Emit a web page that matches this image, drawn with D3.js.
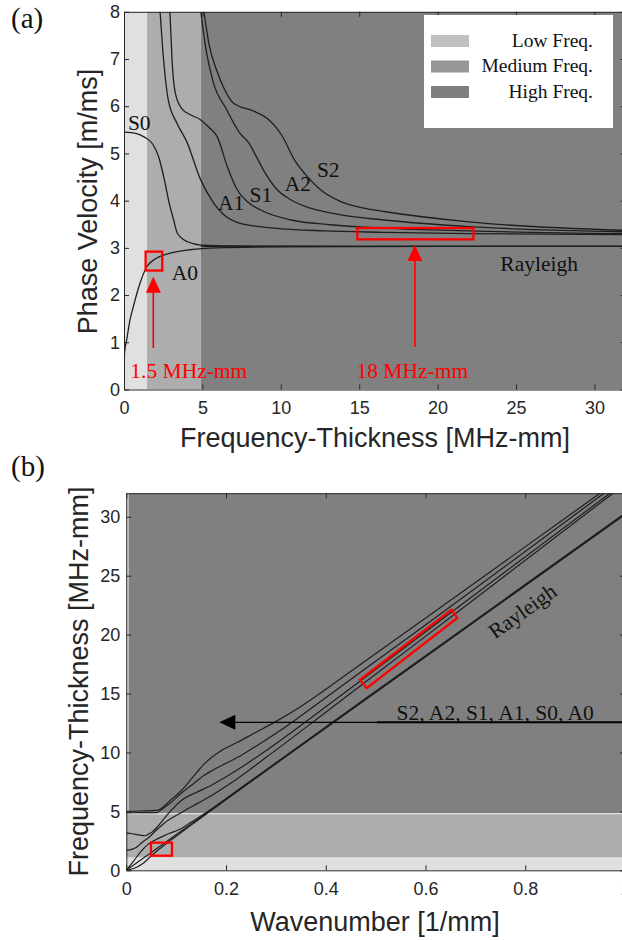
<!DOCTYPE html>
<html><head><meta charset="utf-8">
<script src="https://cdn.jsdelivr.net/npm/d3@7"></script>
<style>body{margin:0;background:#fff}svg{display:block}</style>
</head><body>
<svg id="c" width="622" height="940"></svg>
<script>
// ---------- Panel (a): phase velocity [m/ms] vs frequency-thickness [MHz-mm] ----------
const aS0_fh = [0, 0.8, 1.28, 1.83, 2.22, 2.57, 2.86, 3.16, 3.4, 4.05, 4.93, 7, 10, 15, 22, 32];
const aS0_c  = [5.45, 5.42, 5.35, 5.2, 4.92, 4.45, 3.98, 3.6, 3.31, 3.13, 3.06, 3.04, 3.035, 3.03, 3.03, 3.03];
const aA0_fh = [0, 0.01, 0.04, 0.17, 0.38, 0.59, 1.02, 1.45, 2.07, 2.96, 4.2, 5.9, 10, 20, 32];
const aA0_c  = [0, 0.45, 0.8, 1.05, 1.47, 1.75, 2.25, 2.6, 2.78, 2.89, 2.96, 3.0, 3.02, 3.03, 3.03];
const aA1_fh = [2.3, 2.47, 2.82, 3.36, 4.0, 4.89, 5.72, 6.37, 7.4, 9.57, 12.73, 16.58, 22, 32];
const aA1_c  = [8.0, 7.2, 6.14, 5.65, 5.25, 4.44, 3.95, 3.7, 3.52, 3.42, 3.36, 3.33, 3.30, 3.28];
const aS1_fh = [2.93, 3.06, 3.26, 3.68, 4.24, 4.85, 5.43, 5.95, 6.58, 7.22, 7.86, 8.92, 10.66, 13.18, 16.58, 22, 32];
const aS1_c  = [8.0, 7.0, 6.3, 5.95, 5.82, 5.72, 5.55, 5.35, 4.73, 4.23, 3.98, 3.77, 3.59, 3.49, 3.42, 3.36, 3.30];
const aA2_fh = [4.9, 5.23, 5.7, 6.54, 7.39, 7.97, 8.49, 8.98, 9.77, 10.63, 11.9, 13.82, 16.58, 22, 32];
const aA2_c  = [8.0, 7.2, 6.5, 5.93, 5.43, 5.22, 4.9, 4.6, 4.23, 4.02, 3.84, 3.7, 3.59, 3.45, 3.34];
const aS2_fh = [5.1, 5.43, 5.92, 6.42, 6.97, 8.24, 9.1, 10.07, 10.86, 11.69, 12.53, 13.82, 15.3, 16.58, 22, 32];
const aS2_c  = [8.0, 7.3, 6.75, 6.35, 6.07, 5.9, 5.75, 5.38, 4.87, 4.51, 4.23, 3.98, 3.84, 3.77, 3.55, 3.37];
const aRay_fh = [4.9, 32];
const aRay_c  = [3.03, 3.03];
const aXTicks = [0, 5, 10, 15, 20, 25, 30];
const aYTicks = [0, 1, 2, 3, 4, 5, 6, 7, 8];
const aBands = ["Low Freq.", "Medium Freq.", "High Freq."];
const aBandFrom = [0, 1.47, 4.9];
const aBandTo   = [1.47, 4.9, 32];

// ---------- Panel (b): frequency-thickness [MHz-mm] vs wavenumber [1/mm] ----------
const bS2_k  = [0, 0.03, 0.063, 0.088, 0.115, 0.14, 0.158, 0.187, 0.223, 0.259, 0.296, 0.347, 0.398, 0.44, 0.62, 0.95];
const bS2_fh = [5.0, 5.03, 5.1, 5.92, 6.97, 8.24, 9.1, 10.07, 10.86, 11.69, 12.53, 13.82, 15.3, 16.58, 22, 32];
const bA2_k  = [0, 0.03, 0.061, 0.073, 0.088, 0.11, 0.136, 0.153, 0.173, 0.195, 0.231, 0.264, 0.31, 0.373, 0.462, 0.638, 0.958];
const bA2_fh = [4.88, 4.89, 4.9, 5.23, 5.7, 6.54, 7.39, 7.97, 8.49, 8.98, 9.77, 10.63, 11.9, 13.82, 16.58, 22, 32];
const bS1_k  = [0, 0.012, 0.024, 0.033, 0.037, 0.044, 0.052, 0.062, 0.073, 0.085, 0.098, 0.111, 0.139, 0.171, 0.197, 0.237, 0.297, 0.378, 0.485, 0.655, 0.97];
const bS1_fh = [3.16, 3.1, 3.0, 2.95, 2.93, 3.06, 3.26, 3.68, 4.24, 4.85, 5.43, 5.95, 6.58, 7.22, 7.86, 8.92, 10.66, 13.18, 16.58, 22, 32];
const bA1_k  = [0, 0.012, 0.022, 0.03, 0.046, 0.059, 0.076, 0.11, 0.145, 0.172, 0.21, 0.28, 0.379, 0.498, 0.667, 0.976];
const bA1_fh = [1.69, 1.8, 2.0, 2.3, 2.82, 3.36, 4.0, 4.89, 5.72, 6.37, 7.4, 9.57, 12.73, 16.58, 22, 32];
const bS0_k  = [0, 0.015, 0.03, 0.044, 0.058, 0.072, 0.088, 0.103, 0.129, 0.161, 0.23, 0.5, 1.06];
const bS0_fh = [0, 0.81, 1.62, 2.22, 2.57, 2.86, 3.16, 3.4, 4.05, 4.93, 7.0, 15.2, 32.1];
const bA0_k  = [0, 0.016, 0.026, 0.034, 0.045, 0.056, 0.066, 0.074, 0.102, 0.142, 0.197, 0.33, 0.66, 1.06];
const bA0_fh = [0, 0.17, 0.38, 0.59, 1.02, 1.45, 1.8, 2.07, 2.96, 4.2, 5.9, 9.97, 19.95, 32.1];
const bRay_k  = [0, 1.06];
const bRay_fh = [0, 32];
const bXTicks = [0, 0.2, 0.4, 0.6, 0.8, 1];
const bYTicks = [0, 5, 10, 15, 20, 25, 30];
const bBandFrom = [0, 1.1, 4.8];
const bBandTo   = [1.1, 4.8, 32];

// ---------- styling / layout ----------
const bandFill = ["#e0e0e0", "#adadad", "#808080"];
const swatchFill = ["#c0c0c0", "#979797", "#7e7e7e"];
const curveColor = "#1e1e1e";
const axisColor = "#262626";
const SANS = "'Liberation Sans', Arial, Helvetica, sans-serif";
const SERIF = "'Liberation Serif', 'Times New Roman', serif";

const svg = d3.select("#c");
const zip = (xs, ys) => xs.map((x, i) => [x, ys[i]]);

function panel(opts) {
  const { x, y, id } = opts;
  const g = svg.append("g");
  const [xl, xr] = x.range(), [yb, yt] = y.range();
  svg.append("clipPath").attr("id", id).append("rect")
    .attr("x", xl).attr("y", yt).attr("width", xr - xl).attr("height", yb - yt);
  const inner = g.append("g").attr("clip-path", `url(#${id})`);
  return { g, inner, xl, xr, yb, yt };
}

function drawAxes(p, x, y, xt, yt, padX, padY) {
  const fmt = d3.format("~g");
  const ax = p.g.append("g").attr("transform", `translate(0,${p.yb})`)
    .call(d3.axisBottom(x).tickValues(xt).tickSize(-5).tickSizeOuter(0).tickPadding(padX).tickFormat(fmt));
  const ay = p.g.append("g").attr("transform", `translate(${p.xl},0)`)
    .call(d3.axisLeft(y).tickValues(yt).tickSize(-5).tickSizeOuter(0).tickPadding(padY).tickFormat(fmt));
  const at = p.g.append("g").attr("transform", `translate(0,${p.yt})`)
    .call(d3.axisTop(x).tickValues(xt).tickSize(-5).tickSizeOuter(0).tickFormat(""));
  const ar = p.g.append("g").attr("transform", `translate(${p.xr},0)`)
    .call(d3.axisRight(y).tickValues(yt).tickSize(-5).tickSizeOuter(0).tickFormat(""));
  [ax, ay, at, ar].forEach(a => {
    a.selectAll("path,line").attr("stroke", axisColor).attr("stroke-width", 1);
    a.selectAll("text").attr("fill", axisColor).style("font-family", SANS).style("font-size", "18px");
  });
}

// ================= Panel (a) =================
const xA = d3.scaleLinear().domain([0, 32]).range([124, 625.8]);
const yA = d3.scaleLinear().domain([0, 8]).range([389.5, 11.8]);
const pA = panel({ x: xA, y: yA, id: "clipA" });

pA.inner.selectAll("rect.band").data(aBands).join("rect")
  .attr("x", (d, i) => xA(aBandFrom[i])).attr("y", yA(8))
  .attr("width", (d, i) => xA(aBandTo[i]) - xA(aBandFrom[i]))
  .attr("height", yA(0) - yA(8)).attr("fill", (d, i) => bandFill[i]);

const lineA = d3.line().x(d => xA(d[0])).y(d => yA(d[1])).curve(d3.curveMonotoneX);
const curvesA = [
  zip(aS0_fh, aS0_c), zip(aA0_fh, aA0_c), zip(aA1_fh, aA1_c), zip(aS1_fh, aS1_c),
  zip(aA2_fh, aA2_c), zip(aS2_fh, aS2_c), zip(aRay_fh, aRay_c)
];
pA.inner.selectAll("path.mode").data(curvesA).join("path")
  .attr("d", lineA).attr("fill", "none").attr("stroke", curveColor).attr("stroke-width", 1.3);

// mode labels (data coordinates)
const aLabels = [
  ["S0", 0.25, 5.5], ["A1", 6.0, 3.8], ["S1", 8.0, 3.98], ["A2", 10.25, 4.2],
  ["S2", 12.3, 4.5], ["A0", 3.05, 2.32], ["Rayleigh", 24.0, 2.52]
];
pA.g.selectAll("text.ml").data(aLabels).join("text")
  .attr("x", d => xA(d[1])).attr("y", d => yA(d[2])).text(d => d[0])
  .attr("fill", "#111").style("font-family", SERIF).style("font-size", "21.5px");

// red annotations
const red = "#ff0000";
function redBox(g, x0, x1, y0, y1) {
  g.append("rect").attr("x", xA(x0)).attr("y", yA(y1)).attr("width", xA(x1) - xA(x0))
    .attr("height", yA(y0) - yA(y1)).attr("fill", "none").attr("stroke", red).attr("stroke-width", 2.3);
}
redBox(pA.g, 1.38, 2.44, 2.52, 2.92);
redBox(pA.g, 14.88, 22.28, 3.18, 3.42);
function redArrow(g, fx, cFrom, cTip) {
  const X = xA(fx), yTip = yA(cTip), yFrom = yA(cFrom);
  g.append("line").attr("x1", X).attr("x2", X).attr("y1", yFrom).attr("y2", yTip + 14)
    .attr("stroke", red).attr("stroke-width", 1.6);
  g.append("path").attr("d", `M${X},${yTip} L${X - 7.5},${yTip + 16} L${X + 7.5},${yTip + 16} Z`).attr("fill", red);
}
redArrow(pA.g, 1.87, 0.88, 2.39);
redArrow(pA.g, 18.55, 0.9, 3.06);
pA.g.append("text").attr("x", 188.8).attr("y", 377.5).attr("text-anchor", "middle")
  .text("1.5 MHz-mm").attr("fill", red).style("font-family", SERIF).style("font-size", "21.5px");
pA.g.append("text").attr("x", 412.3).attr("y", 377.5).attr("text-anchor", "middle")
  .text("18 MHz-mm").attr("fill", red).style("font-family", SERIF).style("font-size", "21.5px");

drawAxes(pA, xA, yA, aXTicks, aYTicks, 12, 4);

// legend
const leg = svg.append("g");
leg.append("rect").attr("x", 424).attr("y", 15).attr("width", 189).attr("height", 113).attr("fill", "#fff");
leg.selectAll("rect.sw").data(aBands).join("rect")
  .attr("x", 431).attr("y", (d, i) => 35 + i * 25.5).attr("width", 38).attr("height", 12)
  .attr("fill", (d, i) => swatchFill[i]);
leg.selectAll("text.lt").data(aBands).join("text")
  .attr("x", 593).attr("y", (d, i) => 46.5 + i * 25.5).attr("text-anchor", "end").text(d => d)
  .attr("fill", "#111").style("font-family", SERIF).style("font-size", "19.5px");

// axis titles
svg.append("text").attr("x", 375).attr("y", 447).attr("text-anchor", "middle")
  .text("Frequency-Thickness [MHz-mm]").attr("fill", axisColor).style("font-family", SANS).style("font-size", "27px");
svg.append("text").attr("transform", "translate(96.5,201.5) rotate(-90)").attr("text-anchor", "middle")
  .text("Phase Velocity [m/ms]").attr("fill", axisColor).style("font-family", SANS).style("font-size", "27px");
svg.append("text").attr("x", 11).attr("y", 28).text("(a)").attr("fill", "#111")
  .style("font-family", SERIF).style("font-size", "29px");

// ================= Panel (b) =================
const xB = d3.scaleLinear().domain([0, 1]).range([126.3, 625]);
const yB = d3.scaleLinear().domain([0, 32]).range([870.3, 493.2]);
const pB = panel({ x: xB, y: yB, id: "clipB" });

pB.inner.selectAll("rect.band").data(aBands).join("rect")
  .attr("x", xB(0)).attr("y", (d, i) => yB(bBandTo[i]))
  .attr("width", xB(1) - xB(0))
  .attr("height", (d, i) => yB(bBandFrom[i]) - yB(bBandTo[i])).attr("fill", (d, i) => bandFill[i]);
pB.inner.append("line").attr("x1", xB(0)).attr("x2", xB(1)).attr("y1", yB(4.8)).attr("y2", yB(4.8))
  .attr("stroke", "#f4f4f4").attr("stroke-width", 1.2);
pB.inner.append("line").attr("x1", xB(0) + 1.5).attr("x2", xB(0) + 1.5).attr("y1", yB(32)).attr("y2", yB(4.8))
  .attr("stroke", "#f0f0f0").attr("stroke-width", 1.5);

const lineB = d3.line().x(d => xB(d[0])).y(d => yB(d[1])).curve(d3.curveMonotoneX);
const curvesB = [
  zip(bS2_k, bS2_fh), zip(bA2_k, bA2_fh), zip(bS1_k, bS1_fh), zip(bA1_k, bA1_fh),
  zip(bS0_k, bS0_fh), zip(bA0_k, bA0_fh), zip(bRay_k, bRay_fh)
];
pB.inner.selectAll("path.mode").data(curvesB).join("path")
  .attr("d", lineB).attr("fill", "none").attr("stroke", curveColor).attr("stroke-width", 1.2);

// red boxes
pB.g.append("rect").attr("x", xB(0.0495)).attr("y", yB(2.345)).attr("width", xB(0.0916) - xB(0.0495))
  .attr("height", yB(1.24) - yB(2.345)).attr("fill", "none").attr("stroke", red).attr("stroke-width", 2.3);
const tilt = [[0.4686, 16.17], [0.482, 15.46], [0.6637, 21.41], [0.6524, 22.12]];
pB.g.append("path").attr("d", "M" + tilt.map(d => `${xB(d[0])},${yB(d[1])}`).join("L") + "Z")
  .attr("fill", "none").attr("stroke", red).attr("stroke-width", 2.3);

// black arrow + mode list
const arrY = yB(12.56);
pB.g.append("line").attr("x1", xB(0.21)).attr("x2", xB(0.502)).attr("y1", arrY).attr("y2", arrY)
  .attr("stroke", "#000").attr("stroke-width", 1.3);
pB.g.append("line").attr("x1", xB(0.502)).attr("x2", 622).attr("y1", arrY).attr("y2", arrY)
  .attr("stroke", "#000").attr("stroke-width", 2);
pB.g.append("path").attr("d", `M${xB(0.1865)},${arrY} L${xB(0.1865) + 16},${arrY - 7.5} L${xB(0.1865) + 16},${arrY + 7.5} Z`)
  .attr("fill", "#000");
pB.g.append("text").attr("x", xB(0.542)).attr("y", arrY - 2).text("S2, A2, S1, A1, S0, A0")
  .attr("fill", "#111").style("font-family", SERIF).style("font-size", "21.5px");
pB.g.append("text").attr("transform", `translate(526.7,617) rotate(-35.5)`).attr("text-anchor", "middle")
  .text("Rayleigh").attr("fill", "#111").style("font-family", SERIF).style("font-size", "21.5px");

drawAxes(pB, xB, yB, bXTicks, bYTicks, 12, 6);

svg.append("text").attr("x", 375).attr("y", 931).attr("text-anchor", "middle")
  .text("Wavenumber [1/mm]").attr("fill", axisColor).style("font-family", SANS).style("font-size", "27px");
svg.append("text").attr("transform", "translate(88,681.5) rotate(-90)").attr("text-anchor", "middle")
  .text("Frequency-Thickness [MHz-mm]").attr("fill", axisColor).style("font-family", SANS).style("font-size", "27px");
svg.append("text").attr("x", 11).attr("y", 476).text("(b)").attr("fill", "#111")
  .style("font-family", SERIF).style("font-size", "29px");
</script>
</body></html>
